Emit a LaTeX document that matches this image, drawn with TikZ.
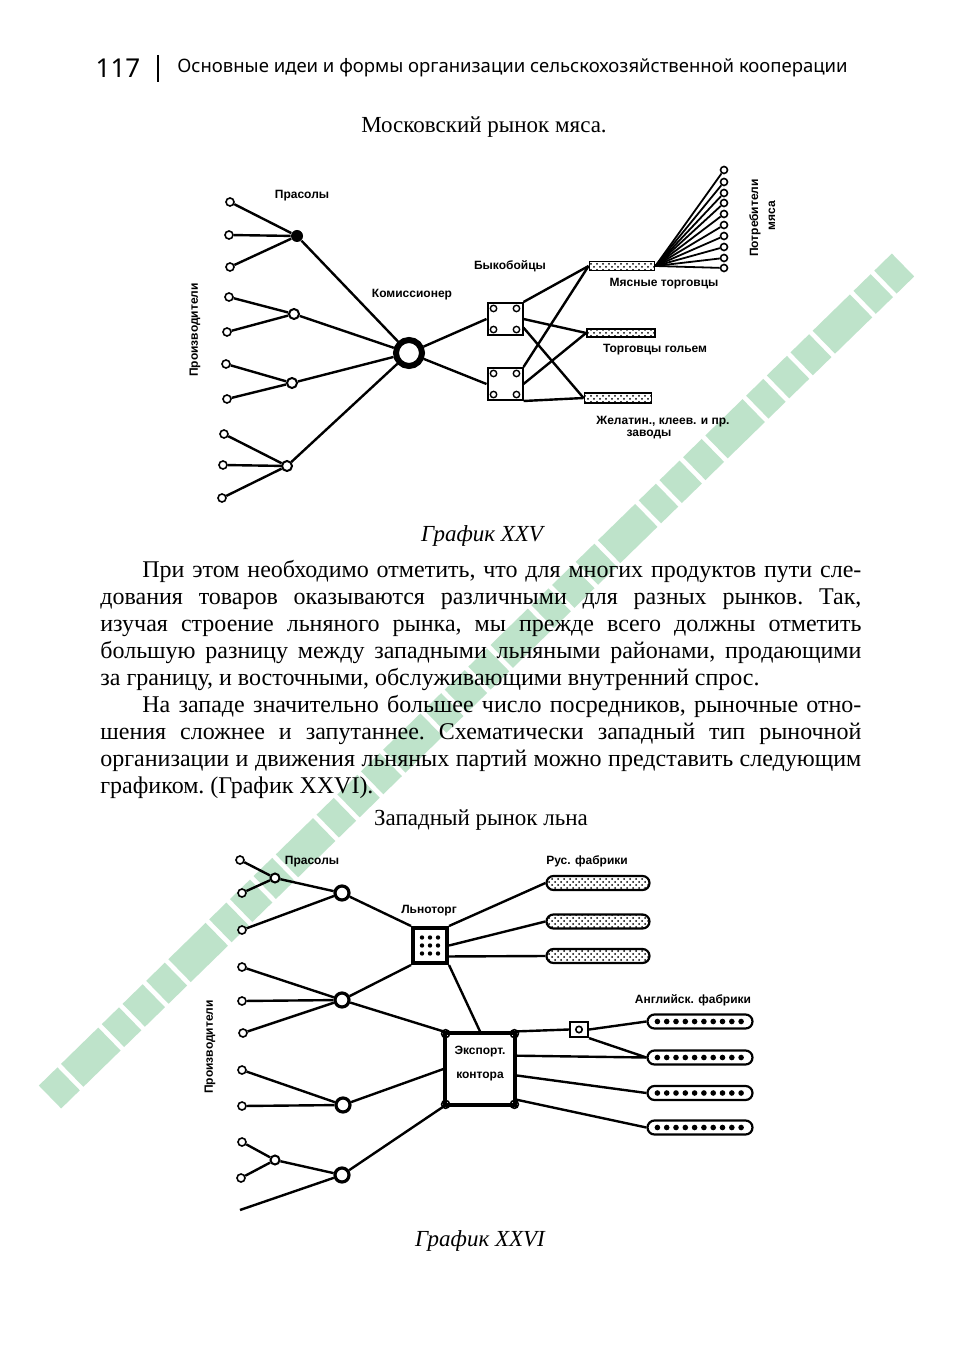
\documentclass[tikz,border=0pt]{standalone}
\usepackage{fontspec}
\setmainfont{Liberation Serif}
\setsansfont{Liberation Sans}
\newfontfamily\headfont{Noto Sans}
\usetikzlibrary{positioning,calc,patterns}
\definecolor{wmgreen}{HTML}{BEE3CA}
\tikzset{
  edge/.style={line width=1.2pt},
  prod/.style={circle,draw,line width=0.8pt,fill=white,minimum size=4pt,inner sep=0},
  hub/.style={circle,draw,line width=1pt,fill=white,minimum size=5pt,inner sep=0},
  bighub/.style={circle,draw,line width=1.6pt,fill=white,minimum size=7pt,inner sep=0},
  % the commission agent: a heavy ring
  ring/.style={circle,draw,line width=3pt,fill=white,minimum size=13pt,inner sep=0},
  slaughter/.style={rectangle,draw,line width=1pt,fill=white,minimum width=17.5pt,minimum height=16pt,inner sep=0},
  bar/.style={rectangle,draw,line width=0.9pt,pattern=crosshatch dots,inner sep=0},
  pill/.style={rectangle,rounded corners=3.5pt,draw,line width=1.1pt,inner sep=0},
  lab/.style={font=\sffamily\bfseries\fontsize{6}{7}\selectfont,inner sep=0},
  body/.style={font=\fontsize{12}{13.5}\selectfont,inner sep=0,align=justify,text width=380.5pt},
  wm/.style={wmgreen,line width=16pt,dash pattern=on 13pt off 2.5pt on 26pt off 2.5pt on 12pt off 2.5pt on 14pt off 2.5pt},
}
\begin{document}
\begin{tikzpicture}[x=0.5pt,y=-0.5pt]
  \useasboundingbox (0,0) rectangle (960,1347);
  \fill[white] (0,0) rectangle (960,1347);
  % green band of the scan
  \coordinate (wa) at (50,1097); \coordinate (wb) at (903,265);
  \draw[wm] (wa) -- (wb);

  % running head
  \node[font=\headfont\fontsize{13}{15}\selectfont,inner sep=0] (pg) at (118,68) {117};
  \draw[line width=1.4pt] (158,55) -- (158,82);
  \node[font=\headfont\fontsize{9.25}{11}\selectfont,inner sep=0,anchor=west] (head) at (177,68)
    {Основные идеи и формы организации сельскохозяйственной кооперации};
  \node[font=\fontsize{11.5}{13}\selectfont,inner sep=0] (t1) at (484,127) {Московский рынок мяса.};

  %%% Graph XXV
  \foreach \n/\px/\py in {1/230/202,2/229/235,3/230/267,4/229/297,5/227/332,
                          6/226/364,7/227/399,8/224/434,9/223/465,10/222/498}
    \node[prod] (p\n) at (\px,\py) {};
  \node[circle,fill,minimum size=6pt,inner sep=0] (h1) at (297,236) {};
  \node[hub] (h2) at (294,314) {};
  \node[hub] (h3) at (292,383) {};
  \node[hub] (h4) at (287,466) {};
  \node[ring] (kom) at (409,353) {};
  \foreach \n in {1,2,3} \draw[edge] (p\n) -- (h1);
  \foreach \n in {4,5} \draw[edge] (p\n) -- (h2);
  \foreach \n in {6,7} \draw[edge] (p\n) -- (h3);
  \foreach \n in {8,9,10} \draw[edge] (p\n) -- (h4);
  \foreach \n in {1,2,3,4} \draw[edge] (h\n) -- (kom);
  \node[slaughter] (b1) at (505,319) {};
  \node[slaughter] (b2) at (505,384) {};
  \foreach \b in {b1,b2}
    \foreach \c in {north west,north east,south west,south east}
      \draw[line width=0.7pt] ($(\b.center)!0.62!(\b.\c)$) circle (1.6pt);
  \draw[edge] (kom) -- (b1.west);
  \draw[edge] (kom) -- (b2.west);
  \node[bar,minimum width=32.5pt,minimum height=4.5pt] (m1) at (622,266) {};
  \node[bar,minimum width=34pt,minimum height=4pt] (m2) at (621,333) {};
  \node[bar,minimum width=33.5pt,minimum height=5pt] (m3) at (618,398) {};
  \draw[edge] (b1.north east) -- (m1.west);
  \draw[edge] (b1.east) -- (m2.west);
  \draw[edge] (b1.-25) -- (m3.west);
  \draw[edge] (b2.north east) -- (m1.west);
  \draw[edge] (b2.east) -- (m2.west);
  \draw[edge] (b2.south east) -- (m3.west);
  \foreach \n/\cy in {1/170,2/182,3/193,4/203,5/214,6/225,7/236,8/247,9/258,10/268} {
    \node[prod,minimum size=3.5pt] (c\n) at (724,\cy) {};
    \draw[line width=0.9pt] (m1.east) -- (c\n);
  }
  \node[lab] (lp) at (302,196) {Прасолы};
  \node[lab] (lk) at (412,295) {Комиссионер};
  \node[lab] (lb) at (510,266) {Быкобойцы};
  \node[lab] (lm) at (664,284) {Мясные торговцы};
  \node[lab] (lg) at (655,350) {Торговцы гольем};
  \node[lab] (lz) at (663,422) {Желатин., клеев. и пр.};
  \node[lab] (lz2) at (649,434) {заводы};
  \node[lab,rotate=90] (lpr) at (195,330) {Производители};
  \node[lab,rotate=90] (lc1) at (755,218) {Потребители};
  \node[lab,rotate=90] (lc2) at (772,216) {мяса};
  \node[font=\itshape\fontsize{11.5}{13}\selectfont,inner sep=0] (cap1) at (482,536) {График XXV};

  % text between the graphs
  \node[body,anchor=north west] (txt) at (100,560) {\tolerance=10000\hyphenpenalty=10000\frenchspacing
    \hspace*{21pt}При этом необходимо отметить, что для многих продуктов пути сле-\linebreak
    дования товаров оказываются различными для разных рынков. Так,\linebreak
    изучая строение льняного рынка, мы прежде всего должны отметить\linebreak
    большую разницу между западными льняными районами, продающими\linebreak
    за границу, и восточными, обслуживающими внутренний спрос.\par
    \hspace*{21pt}На западе значительно большее число посредников, рыночные отно-\linebreak
    шения сложнее и запутаннее. Схематически западный тип рыночной\linebreak
    организации и движения льняных партий можно представить следующим\linebreak
    графиком. (График XXVI).};
  \node[font=\fontsize{11.5}{13}\selectfont,inner sep=0] (t2) at (481,820) {Западный рынок льна};

  %%% Graph XXVI
  \foreach \n/\qx/\qy in {1/240/860,2/242/893,3/242/930,4/242/967,5/242/1001,
                          6/243/1033,7/242/1070,8/242/1106,9/242/1142,10/241/1178}
    \node[prod] (q\n) at (\qx,\qy) {};
  \coordinate (q11) at (240,1210);
  \node[hub,minimum size=4.5pt] (s1) at (275,878) {};
  \node[hub,minimum size=4.5pt] (s2) at (275,1160) {};
  \node[bighub] (g1) at (342,893) {};
  \node[bighub] (g2) at (342,1000) {};
  \node[bighub] (g3) at (343,1105) {};
  \node[bighub] (g4) at (342,1175) {};
  \node[rectangle,draw,line width=2pt,minimum width=17pt,minimum height=17.5pt,inner sep=0] (lt) at (430,945.5) {};
  \foreach \i in {-1,0,1} \foreach \j in {-1,0,1}
    \fill ($(lt.center)+(\i*8,\j*8)$) circle (1.1pt);
  \node[rectangle,draw,line width=1.6pt,fill=white,minimum width=35pt,minimum height=36pt,inner sep=0] (ek) at (480,1069) {};
  \foreach \c in {north west,north east,south west,south east}
    \draw[line width=0.8pt] ($(ek.\c)!0.06!(ek.center)$) circle (2pt);
  \node[rectangle,draw,line width=1.1pt,minimum width=9pt,minimum height=7.5pt,inner sep=0] (sq) at (579,1029.5) {};
  \draw[line width=0.8pt] (sq.center) circle (1.6pt);
  \foreach \n/\ry in {1/883,2/921.5,3/956}
    \node[pill,pattern=crosshatch dots,minimum width=51.5pt,minimum height=7pt] (r\n) at (598,\ry) {};
  \foreach \n/\ey in {1/1021.5,2/1057.5,3/1093,4/1127.5} {
    \node[pill,minimum width=52.5pt,minimum height=7pt] (e\n) at (700,\ey) {};
    \foreach \k in {0,...,9}
      \fill ($(e\n.west)+(11+\k*9.3,0)$) circle (1.4pt);
  }
  \draw[edge] (q1) -- (s1); \draw[edge] (q2) -- (s1); \draw[edge] (s1) -- (g1);
  \draw[edge] (q3) -- (g1);
  \foreach \n in {4,5,6} \draw[edge] (q\n) -- (g2);
  \foreach \n in {7,8} \draw[edge] (q\n) -- (g3);
  \draw[edge] (q9) -- (s2); \draw[edge] (q10) -- (s2); \draw[edge] (s2) -- (g4);
  \draw[edge] (q11) -- (g4);
  \draw[edge] (g1) -- (lt.north west);
  \draw[edge] (g2) -- (lt.south west);
  \draw[edge] (g2) -- (ek.north west);
  \draw[edge] (g3) -- (ek.west);
  \draw[edge] (g4) -- (ek.south west);
  \draw[edge] (lt.north east) -- (r1.west);
  \draw[edge] (lt.east) -- (r2.west);
  \draw[edge] (lt.-30) -- (r3.west);
  \draw[edge] (lt.south east) -- (ek.north);
  \draw[edge] (ek.north east) -- (sq.west);
  \draw[edge] (sq.east) -- (e1.west);
  \draw[edge] (sq.south east) -- (e2.west);
  \draw[edge] (ek.20) -- (e2.west);
  \draw[edge] (ek.-10) -- (e3.west);
  \draw[edge] (ek.-40) -- (e4.west);
  \node[lab] (lpr2) at (312,862) {Прасолы};
  \node[lab] (llt) at (429,911) {Льноторг};
  \node[lab] (lrus) at (587,861) {Рус. фабрики};
  \node[lab] (leng) at (693,1000) {Английск. фабрики};
  \node[lab] (lek1) at (480,1052) {Экспорт.};
  \node[lab] (lek2) at (480,1076) {контора};
  \node[lab,rotate=90] (lpr3) at (210,1047) {Производители};
  \node[font=\itshape\fontsize{11.5}{13}\selectfont,inner sep=0] (cap2) at (480,1241) {График XXVI};
\end{tikzpicture}
\end{document}
